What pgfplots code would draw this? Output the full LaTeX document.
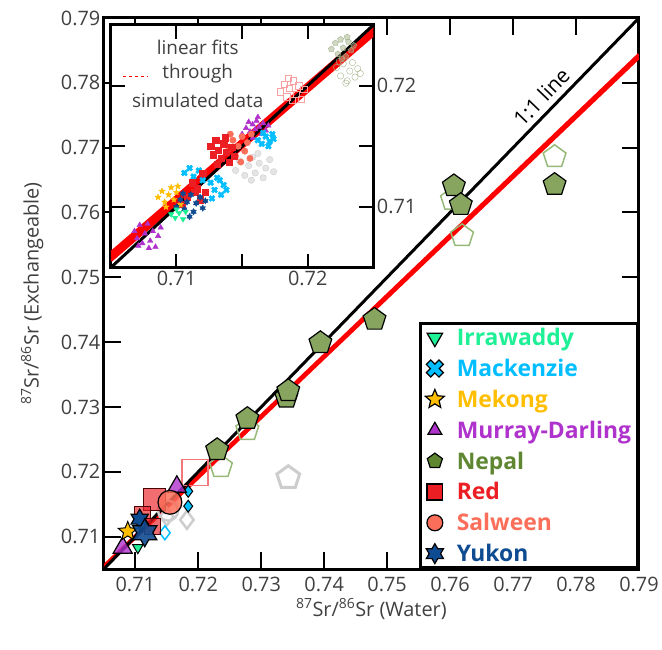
\documentclass[border=0pt]{standalone}
\usepackage{fontspec}
\setmainfont{Open Sans}
\usepackage{pgfplots}
\pgfplotsset{compat=1.18}
\usetikzlibrary{plotmarks}

\definecolor{irr}{RGB}{30,240,150}
\definecolor{mac}{RGB}{0,190,255}
\definecolor{mek}{RGB}{255,190,0}
\definecolor{mur}{RGB}{175,50,205}
\definecolor{nep}{RGB}{95,135,50}
\definecolor{redr}{RGB}{235,30,35}
\definecolor{sal}{RGB}{250,110,90}
\definecolor{yuk}{RGB}{15,75,145}
\definecolor{txtgray}{RGB}{64,64,64}
\definecolor{nepfill}{RGB}{135,165,95}
\definecolor{nepopen}{RGB}{150,185,120}
\definecolor{nepcloud}{RGB}{165,180,140}
\definecolor{pinkcloud}{RGB}{250,160,160}
\definecolor{lgray}{RGB}{205,205,205}

% filled five-point star
\pgfdeclareplotmark{fstar}{%
  \pgfpathmoveto{\pgfpointpolar{90}{\pgfplotmarksize}}%
  \pgfpathlineto{\pgfpointpolar{126}{0.45\pgfplotmarksize}}%
  \pgfpathlineto{\pgfpointpolar{162}{\pgfplotmarksize}}%
  \pgfpathlineto{\pgfpointpolar{198}{0.45\pgfplotmarksize}}%
  \pgfpathlineto{\pgfpointpolar{234}{\pgfplotmarksize}}%
  \pgfpathlineto{\pgfpointpolar{270}{0.45\pgfplotmarksize}}%
  \pgfpathlineto{\pgfpointpolar{306}{\pgfplotmarksize}}%
  \pgfpathlineto{\pgfpointpolar{342}{0.45\pgfplotmarksize}}%
  \pgfpathlineto{\pgfpointpolar{18}{\pgfplotmarksize}}%
  \pgfpathlineto{\pgfpointpolar{54}{0.45\pgfplotmarksize}}%
  \pgfpathclose
  \pgfusepathqfillstroke
}
% filled six-point star
\pgfdeclareplotmark{hexstar}{%
  \pgfpathmoveto{\pgfpointpolar{90}{\pgfplotmarksize}}%
  \pgfpathlineto{\pgfpointpolar{120}{0.577\pgfplotmarksize}}%
  \pgfpathlineto{\pgfpointpolar{150}{\pgfplotmarksize}}%
  \pgfpathlineto{\pgfpointpolar{180}{0.577\pgfplotmarksize}}%
  \pgfpathlineto{\pgfpointpolar{210}{\pgfplotmarksize}}%
  \pgfpathlineto{\pgfpointpolar{240}{0.577\pgfplotmarksize}}%
  \pgfpathlineto{\pgfpointpolar{270}{\pgfplotmarksize}}%
  \pgfpathlineto{\pgfpointpolar{300}{0.577\pgfplotmarksize}}%
  \pgfpathlineto{\pgfpointpolar{330}{\pgfplotmarksize}}%
  \pgfpathlineto{\pgfpointpolar{0}{0.577\pgfplotmarksize}}%
  \pgfpathlineto{\pgfpointpolar{30}{\pgfplotmarksize}}%
  \pgfpathlineto{\pgfpointpolar{60}{0.577\pgfplotmarksize}}%
  \pgfpathclose
  \pgfusepathqfillstroke
}
% filled bold x
\pgfdeclareplotmark{boldx}{%
  \pgfpathmoveto{\pgfpointpolar{25.7}{1.06\pgfplotmarksize}}%
  \pgfpathlineto{\pgfpointpolar{64.3}{1.06\pgfplotmarksize}}%
  \pgfpathlineto{\pgfpointpolar{90}{0.495\pgfplotmarksize}}%
  \pgfpathlineto{\pgfpointpolar{115.7}{1.06\pgfplotmarksize}}%
  \pgfpathlineto{\pgfpointpolar{154.3}{1.06\pgfplotmarksize}}%
  \pgfpathlineto{\pgfpointpolar{180}{0.495\pgfplotmarksize}}%
  \pgfpathlineto{\pgfpointpolar{205.7}{1.06\pgfplotmarksize}}%
  \pgfpathlineto{\pgfpointpolar{244.3}{1.06\pgfplotmarksize}}%
  \pgfpathlineto{\pgfpointpolar{270}{0.495\pgfplotmarksize}}%
  \pgfpathlineto{\pgfpointpolar{295.7}{1.06\pgfplotmarksize}}%
  \pgfpathlineto{\pgfpointpolar{334.3}{1.06\pgfplotmarksize}}%
  \pgfpathlineto{\pgfpointpolar{0}{0.495\pgfplotmarksize}}%
  \pgfpathclose
  \pgfusepathqfillstroke
}

\pgfplotsset{
  cloud/.style={only marks, forget plot, mark size=3.2,
    mark options={line width=0.5bp, draw opacity=0.45, fill opacity=0.2}},
}

\begin{document}
\begin{tikzpicture}
\begin{axis}[
  name=main, at={(0bp,0bp)}, anchor=south west,
  scale only axis, width=536bp, height=552bp,
  xmin=0.705, xmax=0.79, ymin=0.705, ymax=0.79,
  xtick={0.71,0.72,0.73,0.74,0.75,0.76,0.77,0.78,0.79},
  ytick={0.71,0.72,0.73,0.74,0.75,0.76,0.77,0.78,0.79},
  scaled ticks=false,
  tick align=inside,
  major tick length=17bp,
  axis line style={line width=3bp},
  tick style={black, line width=2bp},
  ticklabel style={font=\fontsize{20}{24}\selectfont, text=txtgray,
    /pgf/number format/fixed, /pgf/number format/fixed zerofill,
    /pgf/number format/precision=2, /pgf/number format/assume math mode=true},
  xticklabel style={yshift=-4bp},
  label style={font=\fontsize{20}{24}\selectfont, text=txtgray},
  xlabel={\textsuperscript{87}Sr/\textsuperscript{86}Sr (Water)},
  ylabel={\textsuperscript{87}Sr/\textsuperscript{86}Sr (Exchangeable)},
  xlabel style={at={(axis description cs:0.5,-0.0725)}, anchor=center},
  ylabel style={at={(axis description cs:-0.134,0.5)}, anchor=center},
  legend image code/.code={\draw[mark repeat=2,mark phase=2,#1] plot coordinates {(0bp,0bp) (10bp,0bp) (20bp,0bp)};},
  legend cell align=left,
  legend style={at={(1,0)}, anchor=south east, draw=black, line width=3bp, fill=white,
    font=\bfseries\fontsize{23}{25}\selectfont, inner xsep=5bp, inner ysep=3bp,
    row sep=9bp, column sep=11bp, nodes={inner sep=1.5bp}},
]
% open (hollow) markers
\addplot[only marks, forget plot, mark=pentagon, mark size=12,
  mark options={draw=nepopen, line width=1.5bp}] coordinates {
  (0.7236,0.7208) (0.7278,0.7265) (0.7603,0.7620) (0.7619,0.7564) (0.7766,0.7686)
};
\addplot[only marks, forget plot, mark=pentagon, mark size=12,
  mark options={draw=lgray, line width=3bp}] coordinates {(0.7343,0.7191)};
\addplot[only marks, forget plot, mark=square, mark size=13,
  mark options={draw=redr!60!white, line width=1.5bp}] coordinates {(0.7195,0.7199)};
\addplot[only marks, forget plot, mark=diamond, mark size=9,
  mark options={draw=lgray, line width=2.5bp}] coordinates {(0.7182,0.7126) (0.7150,0.7131)};
\addplot[only marks, forget plot, mark=o, mark size=10,
  mark options={draw=lgray, line width=2.5bp}] coordinates {(0.7152,0.7140)};
\addplot[only marks, forget plot, mark=diamond, mark size=7,
  mark options={draw=mac, line width=1.5bp}] coordinates {(0.7147,0.7106)};
% filled markers
\addplot[only marks, forget plot, mark=diamond*, mark size=6,
  mark options={fill=mac, draw=black, line width=1bp}] coordinates {(0.7184,0.7170) (0.7184,0.7147)};
\addplot[only marks, forget plot, mark=triangle*, mark size=11,
  mark options={fill=mur, fill opacity=0.8, draw=black, line width=1.2bp}] coordinates {(0.7166,0.7177) (0.7080,0.7083)};
\addplot[only marks, forget plot, mark=triangle*, mark size=6,
  mark options={rotate=180, fill=irr, draw=black, line width=1bp}] coordinates {(0.7104,0.7083)};
\addplot[only marks, forget plot, mark=square*, mark size=11,
  mark options={fill=redr, fill opacity=0.65, draw=black!70!red, line width=1bp}] coordinates {(0.7131,0.7157)};
\addplot[only marks, forget plot, mark=square*, mark size=8,
  mark options={fill=redr, fill opacity=0.65, draw=black!70!red, line width=1bp}] coordinates {(0.7112,0.7134) (0.7128,0.7116)};
\addplot[only marks, forget plot, mark=fstar, mark size=10,
  mark options={fill=mek, draw=black, line width=1bp}] coordinates {(0.7088,0.7108)};
\addplot[only marks, forget plot, mark=hexstar, mark size=10,
  mark options={fill=yuk, draw=black, line width=1.2bp}] coordinates {(0.7107,0.7127)};
\addplot[only marks, forget plot, mark=hexstar, mark size=14,
  mark options={fill=yuk, fill opacity=0.9, draw=black, line width=1.2bp}] coordinates {(0.7115,0.7106)};
\addplot[only marks, forget plot, mark=*, mark size=12,
  mark options={fill=sal, fill opacity=0.85, draw=black, line width=1.2bp}] coordinates {(0.7155,0.7153)};
\addplot[only marks, forget plot, mark=pentagon*, mark size=12,
  mark options={fill=nepfill, draw=black, line width=1.2bp}] coordinates {
  (0.7230,0.7234) (0.7278,0.7282) (0.7340,0.7315) (0.7343,0.7325) (0.7394,0.7399)
  (0.7480,0.7435) (0.7606,0.7641) (0.7617,0.7612) (0.7766,0.7643)
};
% fits and 1:1 line
\addplot[forget plot, red, line width=3bp] coordinates {(0.705,0.7052) (0.79,0.7839)};
\addplot[forget plot, red, line width=3bp] coordinates {(0.705,0.7055) (0.79,0.7844)};
\addplot[forget plot, black, line width=3bp] coordinates {(0.705,0.705) (0.79,0.79)};
\node[rotate=46, font=\fontsize{21}{24}\selectfont] at (axis cs:0.7745,0.7778) {1:1 line};

% legend
\addlegendimage{only marks, mark=triangle*, mark size=9, mark options={rotate=180, fill=irr, draw=black, line width=1.2bp}}
\addlegendentry{\textcolor{irr}{Irrawaddy}}
\addlegendimage{only marks, mark=boldx, mark size=9, mark options={fill=mac, draw=black, line width=1.2bp}}
\addlegendentry{\textcolor{mac}{Mackenzie}}
\addlegendimage{only marks, mark=fstar, mark size=10, mark options={fill=mek, draw=black, line width=1.2bp}}
\addlegendentry{\textcolor{mek}{Mekong}}
\addlegendimage{only marks, mark=triangle*, mark size=8, mark options={fill=mur, draw=black, line width=1.2bp}}
\addlegendentry{\textcolor{mur}{Murray-Darling}}
\addlegendimage{only marks, mark=pentagon*, mark size=8, mark options={fill=nep, draw=black, line width=1.2bp}}
\addlegendentry{\textcolor{nep}{Nepal}}
\addlegendimage{only marks, mark=square*, mark size=8, mark options={fill=redr, draw=black, line width=1.2bp}}
\addlegendentry{\textcolor{redr}{Red}}
\addlegendimage{only marks, mark=*, mark size=8, mark options={fill=sal, draw=black, line width=1.2bp}}
\addlegendentry{\textcolor{sal}{Salween}}
\addlegendimage{only marks, mark=hexstar, mark size=10, mark options={fill=yuk, draw=black, line width=1.2bp}}
\addlegendentry{\textcolor{yuk}{Yukon}}
\end{axis}

\begin{axis}[
  name=inset,
  at={(7bp,302bp)}, anchor=south west,
  scale only axis, width=263bp, height=243bp,
  xmin=0.705, xmax=0.725, ymin=0.705, ymax=0.725,
  axis background/.style={fill=white},
  xtick={0.71,0.715,0.72}, xticklabels={0.71,,0.72},
  ytick={0.71,0.715,0.72}, yticklabels={0.71,,0.72},
  yticklabel pos=right,
  tick align=inside,
  major tick length=14bp,
  axis line style={line width=3bp},
  tick style={black, line width=2bp},
  ticklabel style={font=\fontsize{20}{24}\selectfont, text=txtgray},
]
% simulated data clouds
\addplot[cloud, mark=pentagon*, mark options={draw=nepcloud, fill=nepcloud, fill opacity=0.5}] coordinates {
  (0.7218,0.7230) (0.7221,0.7235) (0.7223,0.7226) (0.7225,0.7238) (0.7227,0.7231)
  (0.7229,0.7224) (0.7231,0.7236) (0.7233,0.7229) (0.7235,0.7233) (0.7226,0.7222) (0.7230,0.7240)
};
\addplot[cloud, mark=o, mark options={draw=nepcloud}] coordinates {
  (0.7222,0.7215) (0.7225,0.7208) (0.7227,0.7218) (0.7230,0.7204) (0.7232,0.7212)
  (0.7234,0.7219) (0.7236,0.7207) (0.7238,0.7214) (0.7240,0.7210) (0.7229,0.7202) (0.7224,0.7220)
};
\addplot[cloud, mark=square, mark options={draw=pinkcloud}] coordinates {
  (0.7179,0.7195) (0.7182,0.7201) (0.7184,0.7191) (0.7186,0.7198) (0.7189,0.7204)
  (0.7191,0.7193) (0.7193,0.7200) (0.7195,0.7189) (0.7197,0.7197) (0.7188,0.7188) (0.7185,0.7206)
};
\addplot[cloud, mark=*, mark options={draw=lgray, fill=lgray, fill opacity=0.5}] coordinates {
  (0.7145,0.7130) (0.7148,0.7138) (0.7152,0.7126) (0.7155,0.7134) (0.7158,0.7141)
  (0.7160,0.7128) (0.7163,0.7136) (0.7166,0.7124) (0.7168,0.7132) (0.7171,0.7139)
  (0.7174,0.7129) (0.7157,0.7122) (0.7162,0.7144)
};
\addplot[cloud, mark=triangle*, mark options={draw=mur, fill=mur}] coordinates {
  (0.7150,0.7160) (0.7153,0.7165) (0.7156,0.7162) (0.7158,0.7168) (0.7160,0.7164)
  (0.7161,0.7171) (0.7163,0.7166) (0.7165,0.7160) (0.7166,0.7169) (0.7168,0.7163)
  (0.7170,0.7167) (0.7158,0.7157) (0.7162,0.7174) (0.7155,0.7170)
};
\addplot[cloud, mark=boldx, mark options={draw=mac, fill=mac}] coordinates {
  (0.7162,0.7155) (0.7165,0.7152) (0.7168,0.7158) (0.7171,0.7154) (0.7173,0.7160)
  (0.7166,0.7161) (0.7170,0.7150) (0.7174,0.7156)
};
\addplot[cloud, mark=*, mark options={draw=sal, fill=sal}] coordinates {
  (0.7140,0.7148) (0.7143,0.7155) (0.7145,0.7142) (0.7147,0.7150) (0.7150,0.7158)
  (0.7152,0.7146) (0.7154,0.7153) (0.7156,0.7140) (0.7149,0.7137) (0.7141,0.7160) (0.7157,0.7160)
};
\addplot[cloud, mark=square*, mark options={draw=redr, fill=redr}] coordinates {
  (0.7126,0.7150) (0.7128,0.7143) (0.7130,0.7155) (0.7132,0.7147) (0.7134,0.7140)
  (0.7136,0.7152) (0.7138,0.7145) (0.7140,0.7137) (0.7142,0.7149) (0.7144,0.7142)
  (0.7131,0.7135) (0.7137,0.7157)
};
\addplot[cloud, mark=boldx, mark options={draw=mac, fill=mac}] coordinates {
  (0.7106,0.7128) (0.7110,0.7132) (0.7113,0.7125) (0.7117,0.7130) (0.7120,0.7122)
  (0.7126,0.7120) (0.7129,0.7114) (0.7131,0.7124) (0.7134,0.7110) (0.7136,0.7118)
  (0.7127,0.7107) (0.7133,0.7122) (0.7138,0.7114)
};
\addplot[cloud, mark=square*, mark options={draw=redr, fill=redr}] coordinates {
  (0.7112,0.7120) (0.7116,0.7115) (0.7120,0.7128) (0.7122,0.7112) (0.7118,0.7106)
  (0.7108,0.7108) (0.7114,0.7112) (0.7104,0.7102)
};
\addplot[cloud, mark=fstar, mark options={draw=mek, fill=mek}] coordinates {
  (0.7086,0.7108) (0.7089,0.7113) (0.7091,0.7104) (0.7094,0.7110) (0.7096,0.7116)
  (0.7098,0.7106) (0.7100,0.7112) (0.7103,0.7102) (0.7092,0.7100) (0.7101,0.7117)
};
\addplot[cloud, mark=hexstar, mark options={draw=yuk, fill=yuk}] coordinates {
  (0.7100,0.7100) (0.7103,0.7106) (0.7106,0.7098) (0.7108,0.7104) (0.7111,0.7110)
  (0.7113,0.7096) (0.7115,0.7103) (0.7118,0.7108) (0.7120,0.7099) (0.7110,0.7092)
  (0.7105,0.7111) (0.7122,0.7105)
};
\addplot[cloud, mark=triangle*, mark options={rotate=180, draw=irr, fill=irr}] coordinates {
  (0.7096,0.7094) (0.7099,0.7091) (0.7102,0.7095) (0.7105,0.7090) (0.7107,0.7096) (0.7100,0.7098)
};
\addplot[cloud, mark=triangle*, mark options={draw=mur, fill=mur}] coordinates {
  (0.7068,0.7080) (0.7070,0.7074) (0.7072,0.7085) (0.7074,0.7070) (0.7076,0.7078)
  (0.7078,0.7086) (0.7080,0.7072) (0.7082,0.7080) (0.7084,0.7067) (0.7086,0.7076)
  (0.7088,0.7083) (0.7079,0.7066) (0.7071,0.7068)
};
% fits through simulated data and 1:1 line
\addplot[forget plot, red, line width=3.5bp] coordinates {(0.705,0.7056) (0.725,0.7242)};
\addplot[forget plot, red, line width=3.5bp] coordinates {(0.705,0.7059) (0.725,0.7245)};
\addplot[forget plot, red, line width=3.5bp] coordinates {(0.705,0.7062) (0.725,0.7248)};
\addplot[forget plot, black, line width=3bp] coordinates {(0.705,0.705) (0.725,0.725)};
\draw[red, dashed, line width=1.2bp] (axis description cs:0.046,0.786) -- (axis description cs:0.141,0.786);
\node[font=\fontsize{19}{22}\selectfont, text=txtgray] at (axis description cs:0.331,0.909) {linear fits};
\node[font=\fontsize{19}{22}\selectfont, text=txtgray] at (axis description cs:0.331,0.798) {through};
\node[font=\fontsize{19}{22}\selectfont, text=txtgray] at (axis description cs:0.331,0.691) {simulated data};
\end{axis}
\path (-104bp,-81bp) rectangle (558bp,570bp);
\end{tikzpicture}
\end{document}
